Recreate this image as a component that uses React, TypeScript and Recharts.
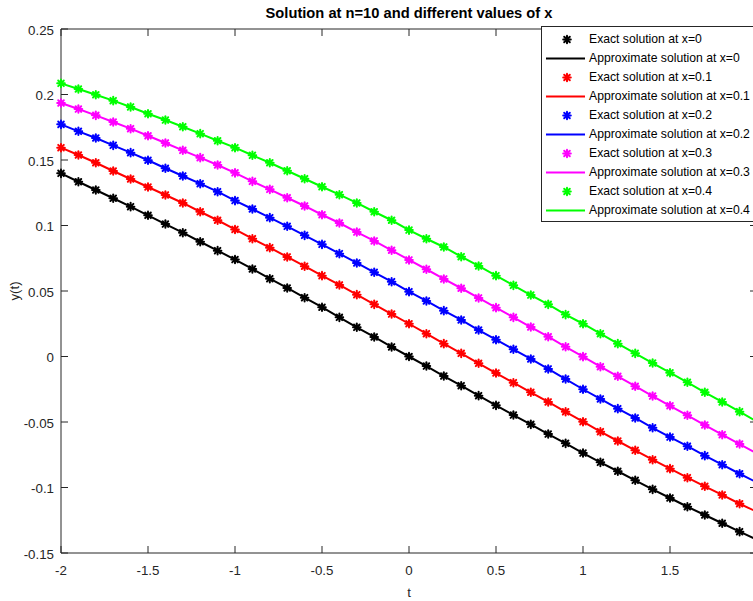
import React from 'react';
import { ComposedChart, Line, XAxis, YAxis } from 'recharts';

// time grid, step 0.1
const tValues = [
  -2, -1.9, -1.8, -1.7, -1.6, -1.5, -1.4, -1.3, -1.2, -1.1,
  -1, -0.9, -0.8, -0.7, -0.6, -0.5, -0.4, -0.3, -0.2, -0.1,
  0, 0.1, 0.2, 0.3, 0.4, 0.5, 0.6, 0.7, 0.8, 0.9,
  1, 1.1, 1.2, 1.3, 1.4, 1.5, 1.6, 1.7, 1.8, 1.9, 2,
];

const yAt0 = [
  0.1398, 0.1334, 0.1271, 0.1208, 0.1144, 0.1078, 0.1011, 0.0945, 0.0876, 0.0808,
  0.074, 0.0668, 0.0594, 0.0523, 0.0449, 0.0376, 0.0299, 0.0223, 0.0149, 0.0073,
  0, -0.0073, -0.0149, -0.0223, -0.0299, -0.0373, -0.0447, -0.0518, -0.0592, -0.0663,
  -0.0737, -0.0808, -0.0876, -0.0945, -0.1014, -0.108, -0.1147, -0.121, -0.1273, -0.1337, -0.1398,
];

const yAt01 = [
  0.1594, 0.1538, 0.1479, 0.1416, 0.1355, 0.1294, 0.1233, 0.1172, 0.1105, 0.104,
  0.097, 0.0899, 0.0831, 0.076, 0.0689, 0.0617, 0.0546, 0.0472, 0.0398, 0.0324,
  0.025, 0.0174, 0.0098, 0.0024, -0.0052, -0.0126, -0.02, -0.0273, -0.0347, -0.0422,
  -0.0498, -0.0574, -0.0645, -0.0716, -0.0788, -0.0856, -0.0925, -0.0991, -0.1057, -0.1124, -0.1186,
];

const yAt02 = [
  0.1772, 0.1719, 0.1668, 0.1612, 0.1556, 0.1498, 0.1437, 0.1378, 0.1319, 0.1258,
  0.119, 0.1126, 0.106, 0.0994, 0.0925, 0.0856, 0.0785, 0.0714, 0.0643, 0.0571,
  0.0495, 0.0424, 0.035, 0.0279, 0.0202, 0.0128, 0.0055, -0.0019, -0.0095, -0.0172,
  -0.025, -0.0324, -0.0398, -0.0469, -0.0544, -0.0615, -0.0685, -0.0757, -0.0826, -0.0895, -0.0962,
];

const yAt03 = [
  0.1935, 0.1889, 0.1841, 0.179, 0.1739, 0.1685, 0.163, 0.1574, 0.1518, 0.1462,
  0.1402, 0.1337, 0.1276, 0.1212, 0.1149, 0.1082, 0.1019, 0.095, 0.0882, 0.0811,
  0.0737, 0.0666, 0.0592, 0.0521, 0.0447, 0.0373, 0.0299, 0.0225, 0.0151, 0.0074,
  -0.0001, -0.0078, -0.0151, -0.0227, -0.0302, -0.0376, -0.0449, -0.0523, -0.0597, -0.0668, -0.074,
];

const yAt04 = [
  0.2085, 0.2042, 0.1998, 0.1953, 0.1905, 0.1853, 0.1805, 0.1754, 0.1701, 0.1647,
  0.1594, 0.1536, 0.1479, 0.1418, 0.1357, 0.1296, 0.1235, 0.1172, 0.1105, 0.104,
  0.0965, 0.0899, 0.0836, 0.0762, 0.0691, 0.0617, 0.0543, 0.0469, 0.0398, 0.032,
  0.025, 0.0174, 0.0098, 0.0024, -0.005, -0.0124, -0.0197, -0.0273, -0.0347, -0.0421, -0.0497,
];

// the t = 2 tick falls on the clipped right edge, so it is left out
const xTicks = [-2, -1.5, -1, -0.5, 0, 0.5, 1, 1.5];
const yTicks = [-0.15, -0.1, -0.05, 0, 0.05, 0.1, 0.15, 0.2, 0.25];

const curves = [
  { key: 'x0', xLabel: '0', color: '#000000', values: yAt0 },
  { key: 'x01', xLabel: '0.1', color: '#ff0000', values: yAt01 },
  { key: 'x02', xLabel: '0.2', color: '#0000ff', values: yAt02 },
  { key: 'x03', xLabel: '0.3', color: '#ff00ff', values: yAt03 },
  { key: 'x04', xLabel: '0.4', color: '#00ff00', values: yAt04 },
];

const data = tValues.map((t, i) => {
  const row: Record<string, number> = { t };
  curves.forEach((c) => {
    row[c.key] = c.values[i];
  });
  return row;
});

const FONT = '"Liberation Sans", Arial, Helvetica, sans-serif';
const AXIS = '#262626';
const TICK_LEN = 7;
const MARKED_POINTS = 40; // markers stop at t = 1.9

const Asterisk = ({ cx, cy, color }: { cx: number; cy: number; color: string }) => (
  <g stroke={color} strokeWidth={2} strokeLinecap="round">
    <line x1={cx - 3.8} x2={cx + 3.8} y1={cy} y2={cy} />
    <line x1={cx} x2={cx} y1={cy - 3.8} y2={cy + 3.8} />
    <line x1={cx - 2.8} y1={cy - 2.8} x2={cx + 2.8} y2={cy + 2.8} />
    <line x1={cx - 2.8} y1={cy + 2.8} x2={cx + 2.8} y2={cy - 2.8} />
    <circle cx={cx} cy={cy} r={2.4} fill={color} stroke="none" />
  </g>
);

const BottomTick = (props: any) => {
  const { x, y, payload } = props;
  return (
    <g>
      <line x1={x} x2={x} y1={y} y2={y - TICK_LEN} stroke={AXIS} />
      <text x={x} y={y + 22} textAnchor="middle" fontSize={13.3} fontFamily={FONT} fill={AXIS}>
        {String(payload.value)}
      </text>
    </g>
  );
};

const TopTick = (props: any) => {
  const { x, y } = props;
  return <line x1={x} x2={x} y1={y} y2={y + TICK_LEN} stroke={AXIS} />;
};

const LeftTick = (props: any) => {
  const { x, y, payload } = props;
  return (
    <g>
      <line x1={x} x2={x + TICK_LEN} y1={y} y2={y} stroke={AXIS} />
      <text x={x - 7} y={y + 5.5} textAnchor="end" fontSize={13.3} fontFamily={FONT} fill={AXIS}>
        {String(payload.value)}
      </text>
    </g>
  );
};

const RightTick = (props: any) => {
  const { x, y } = props;
  return <line x1={x} x2={x - TICK_LEN} y1={y} y2={y} stroke={AXIS} />;
};

const XTitle = (props: any) => {
  const vb = props.viewBox;
  return (
    <text x={vb.x + vb.width / 2} y={vb.y + 44} textAnchor="middle" fontSize={13.3} fontFamily={FONT} fill={AXIS}>
      t
    </text>
  );
};

const YTitle = (props: any) => {
  const vb = props.viewBox;
  const x = vb.x + 14;
  const y = vb.y + vb.height / 2;
  return (
    <text
      x={x}
      y={y}
      transform={`rotate(-90 ${x} ${y})`}
      textAnchor="middle"
      dominantBaseline="central"
      fontSize={13.3}
      fontFamily={FONT}
      fill={AXIS}
    >
      y(t)
    </text>
  );
};

const legendEntries = curves.flatMap((c) => [
  { kind: 'marker', color: c.color, text: `Exact solution at x=${c.xLabel}` },
  { kind: 'line', color: c.color, text: `Approximate solution at x=${c.xLabel}` },
]);

const LegendBox = () => (
  <div
    style={{
      position: 'absolute',
      left: 541,
      top: 26,
      width: 216,
      border: '1px solid #262626',
      background: '#fff',
      paddingTop: 2.5,
      paddingBottom: 1,
      fontFamily: FONT,
      fontSize: 12.2,
      color: '#000',
    }}
  >
    {legendEntries.map((e, i) => (
      <div key={i} style={{ display: 'flex', alignItems: 'center', height: 19, whiteSpace: 'nowrap' }}>
        <svg width={47} height={19} style={{ display: 'block', flex: 'none' }}>
          {e.kind === 'marker' ? (
            <Asterisk cx={25} cy={9.5} color={e.color} />
          ) : (
            <line x1={4} x2={43} y1={9.5} y2={9.5} stroke={e.color} strokeWidth={2} />
          )}
        </svg>
        <span style={{ lineHeight: '19px' }}>{e.text}</span>
      </div>
    ))}
  </div>
);

export default function App() {
  return (
    <div
      style={{
        position: 'absolute',
        left: 0,
        top: 0,
        width: 753,
        height: 601,
        overflow: 'hidden',
        background: '#fff',
      }}
    >
      <div
        style={{
          position: 'absolute',
          left: 61,
          top: 5.5,
          width: 696,
          textAlign: 'center',
          fontFamily: FONT,
          fontSize: 14.7,
          fontWeight: 'bold',
          lineHeight: '14.7px',
          color: '#000',
          whiteSpace: 'nowrap',
        }}
      >
        Solution at n=10 and different values of x
      </div>
      <ComposedChart
        width={770}
        height={601}
        data={data}
        margin={{ top: 28, right: 12, bottom: 0, left: 0 }}
      >
        <XAxis
          xAxisId="b"
          dataKey="t"
          type="number"
          domain={[-2, 2]}
          ticks={xTicks}
          interval={0}
          height={48}
          tickSize={0}
          tickMargin={0}
          tick={<BottomTick />}
          axisLine={{ stroke: AXIS }}
          label={{ content: <XTitle /> }}
        />
        <XAxis
          xAxisId="top"
          orientation="top"
          dataKey="t"
          type="number"
          domain={[-2, 2]}
          ticks={xTicks}
          interval={0}
          height={1}
          tickSize={0}
          tickMargin={0}
          tick={<TopTick />}
          axisLine={{ stroke: AXIS }}
        />
        <YAxis
          yAxisId="l"
          type="number"
          domain={[-0.15, 0.25]}
          ticks={yTicks}
          interval={0}
          width={61}
          tickSize={0}
          tickMargin={0}
          tick={<LeftTick />}
          axisLine={{ stroke: AXIS }}
          label={{ content: <YTitle /> }}
        />
        <YAxis
          yAxisId="r"
          orientation="right"
          type="number"
          domain={[-0.15, 0.25]}
          ticks={yTicks}
          interval={0}
          width={1}
          tickSize={0}
          tickMargin={0}
          tick={<RightTick />}
          axisLine={{ stroke: AXIS }}
        />
        {curves.flatMap((c) => [
          <Line
            key={`exact-${c.key}`}
            xAxisId="top"
            yAxisId="r"
            dataKey={c.key}
            stroke="none"
            isAnimationActive={false}
            activeDot={false}
            dot={(p: any) =>
              p.index < MARKED_POINTS ? (
                <Asterisk key={p.index} cx={p.cx} cy={p.cy} color={c.color} />
              ) : (
                <g key={p.index} />
              )
            }
          />,
          <Line
            key={`approx-${c.key}`}
            xAxisId="b"
            yAxisId="l"
            dataKey={c.key}
            type="linear"
            stroke={c.color}
            strokeWidth={2}
            dot={false}
            activeDot={false}
            isAnimationActive={false}
          />,
        ])}
      </ComposedChart>
      <LegendBox />
    </div>
  );
}
